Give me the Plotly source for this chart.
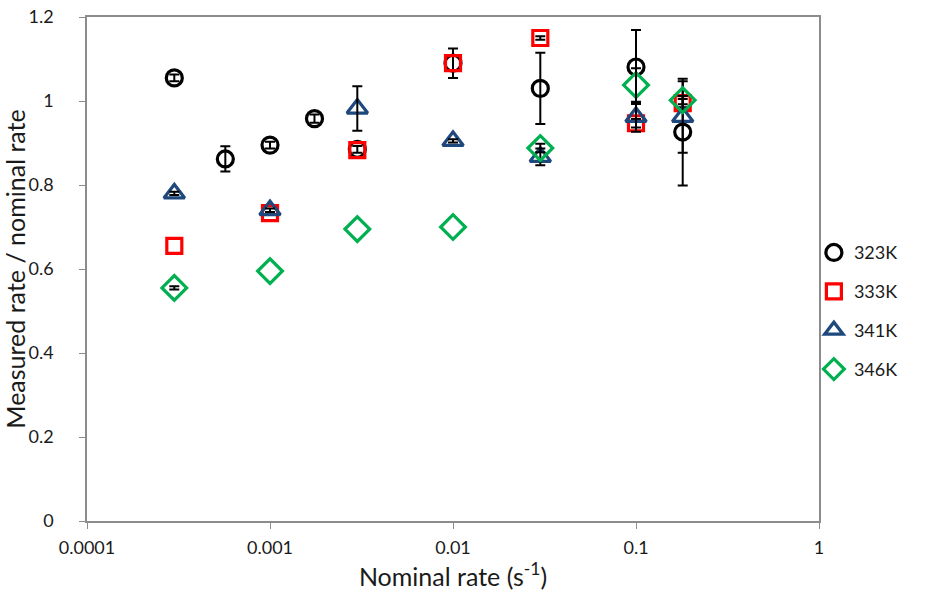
import plotly.graph_objects as go

# ---- data ----
series_names = ["323K", "333K", "341K", "346K"]

x_323 = [0.0003, 0.00057, 0.001, 0.00175, 0.003, 0.01, 0.03, 0.1, 0.18]
y_323 = [1.055, 0.862, 0.895, 0.958, 0.885, 1.09, 1.03, 1.081, 0.926]
e_323 = [0.008, 0.03, 0.008, 0.01, 0.008, 0.035, 0.085, 0.088, 0.127]

x_333 = [0.0003, 0.001, 0.003, 0.01, 0.03, 0.1, 0.18]
y_333 = [0.655, 0.733, 0.883, 1.09, 1.15, 0.947, 0.995]
e_333 = [None, None, None, None, 0.004, 0.01, 0.01]

x_341 = [0.0003, 0.001, 0.003, 0.01, 0.03, 0.1, 0.18]
y_341 = [0.78, 0.74, 0.982, 0.905, 0.867, 0.962, 0.962]
e_341 = [0.004, 0.004, 0.053, 0.004, 0.02, 0.035, 0.085]

x_346 = [0.0003, 0.001, 0.003, 0.01, 0.03, 0.1, 0.18]
y_346 = [0.555, 0.595, 0.695, 0.70, 0.888, 1.038, 1.002]
e_346 = [0.004, None, None, None, 0.01, 0.04, 0.01]

x_tickvals = [0.0001, 0.001, 0.01, 0.1, 1]
x_ticktext = ["0.0001", "0.001", "0.01", "0.1", "1"]
y_tickvals = [0, 0.2, 0.4, 0.6, 0.8, 1.0, 1.2]
y_ticktext = ["0", "0.2", "0.4", "0.6", "0.8", "1", "1.2"]

colors = ["#000000", "#FF0000", "#1F497D", "#00B050"]
symbols = ["circle-open", "square-open", "triangle-up-open", "diamond-open"]
sizes = [16, 15, 18, 19]

FONT = "Lato, Open Sans, sans-serif"
TXT = "#1a1a1a"

fig = go.Figure()
data = [(x_323, y_323, e_323), (x_333, y_333, e_333), (x_341, y_341, e_341), (x_346, y_346, e_346)]
# marker traces
for i, (xs, ys, es) in enumerate(data):
    fig.add_trace(go.Scatter(
        x=xs, y=ys, mode="markers", name=series_names[i],
        legendgroup=series_names[i],
        marker=dict(symbol=symbols[i], size=sizes[i], color=colors[i],
                    line=dict(width=3.2, color=colors[i])),
    ))
    # error bars only where the reference shows them
    idx = [k for k, e in enumerate(es) if e is not None]
    fig.add_trace(go.Scatter(
        x=[xs[k] for k in idx], y=[ys[k] for k in idx], mode="markers",
        legendgroup=series_names[i], showlegend=False, hoverinfo="skip",
        marker=dict(size=1, opacity=0, color=colors[i]),
        error_y=dict(type="data", array=[es[k] for k in idx], visible=True,
                     color="#000000", thickness=2, width=5),
    ))

axis_line = "#8C8C8C"
fig.update_layout(
    width=929, height=597,
    margin=dict(l=87, r=110, t=17, b=76),
    paper_bgcolor="white", plot_bgcolor="white",
    font=dict(family=FONT, size=18, color=TXT),
    showlegend=True,
    legend=dict(x=0.993, y=0.569, xanchor="left", yanchor="top",
                font=dict(family=FONT, size=18, color=TXT),
                tracegroupgap=12.5, itemwidth=30, bgcolor="rgba(0,0,0,0)"),
    xaxis=dict(type="log", range=[-4, 0], tickvals=x_tickvals, ticktext=x_ticktext,
               automargin=False,
               showgrid=False, zeroline=False, showline=True, linecolor=axis_line,
               linewidth=1.5, mirror=True, ticks="outside", ticklen=6, tickcolor=axis_line,
               tickfont=dict(family=FONT, size=18, color=TXT),
               ticklabelstandoff=4,
               title=dict(text="Nominal rate (s<sup>-1</sup>)", standoff=8,
                          font=dict(family=FONT, size=25, color=TXT))),
    yaxis=dict(range=[0, 1.2], tickvals=y_tickvals, ticktext=y_ticktext,
               automargin=False,
               showgrid=False, zeroline=False, showline=True, linecolor=axis_line,
               linewidth=1.5, mirror=True, ticks="outside", ticklen=6, tickcolor=axis_line,
               tickfont=dict(family=FONT, size=18, color=TXT),
               ticklabelstandoff=22,
               title=dict(text="Measured rate / nominal rate", standoff=0,
                          font=dict(family=FONT, size=25, color=TXT))),
)

fig.write_html("out.html", config={"displayModeBar": False},
               post_script="document.body.style.margin='0';")
